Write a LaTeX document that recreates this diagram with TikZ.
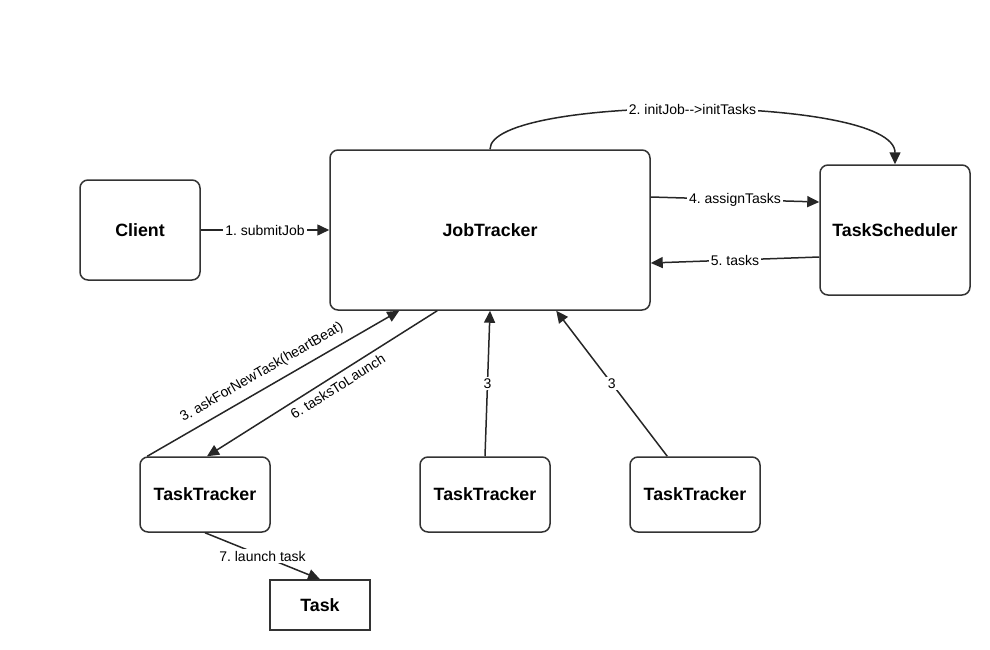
\documentclass[tikz,border=0pt]{standalone}
\usepackage{fontspec}
\setmainfont{Liberation Sans}
\usetikzlibrary{arrows.meta}
\definecolor{linegray}{HTML}{333333}
\frenchspacing

\begin{document}
\begin{tikzpicture}[x = 1pt, y = -1pt,
	box/.style = {draw = linegray, line width = 1.5pt, rounded corners = 8pt, inner sep = 0pt, font = \bfseries\fontsize{17.8}{20}\selectfont},
	plain/.style = {draw = linegray, line width = 1.5pt, inner sep = 0pt, font = \bfseries\fontsize{17.8}{20}\selectfont},
	link/.style = {draw = black!85, line width = 1.5pt, -{Triangle[length = 12pt, width = 11pt]}},
	lab/.style = {fill = white, inner sep = 2pt, font = \fontsize{14}{16}\selectfont},
	slab/.style = {inner sep = 2pt, font = \fontsize{14}{16}\selectfont, sloped}]
	\useasboundingbox (0,0) rectangle (990,650);
	% nodes
	\node[box, minimum width = 120pt, minimum height = 100pt] (client) at (140,230) {Client};
	\node[box, minimum width = 320pt, minimum height = 160pt] (jt) at (490,230) {JobTracker};
	\node[box, minimum width = 150pt, minimum height = 130pt] (ts) at (895,230) {TaskScheduler};
	\node[box, minimum width = 130pt, minimum height = 75pt] (tt1) at (205,494.5) {TaskTracker};
	\node[box, minimum width = 130pt, minimum height = 75pt] (tt2) at (485,494.5) {TaskTracker};
	\node[box, minimum width = 130pt, minimum height = 75pt] (tt3) at (695,494.5) {TaskTracker};
	\node[plain, minimum width = 100pt, minimum height = 50pt] (task) at (320,605) {Task};
	% connectors
	\draw[link] (client.east) -- node[lab] {1. submitJob} (jt.west);
	\draw[link] (jt.north) .. controls +(0,-55) and +(0,-70) .. node[lab, pos = 0.5] {2. initJob-{}->initTasks} (ts.north);
	\draw[link] ([yshift = 33pt]jt.east) -- node[lab] {4. assignTasks} ([yshift = 28pt]ts.west);
	\draw[link] ([yshift = -27pt]ts.west) -- node[lab] {5. tasks} ([yshift = -33pt]jt.east);
	\draw[link] ([xshift = 8pt]tt1.north west) -- node[slab, above = 6pt, pos = 0.485] {3. askForNewTask(heartBeat)} ([xshift = 70pt]jt.south west);
	\draw[link] ([xshift = 108pt]jt.south west) -- node[slab, below = 3pt, pos = 0.457] {6. tasksToLaunch} ([xshift = 2pt]tt1.north);
	\draw[link] (tt2.north) -- node[lab] {3} (jt.south);
	\draw[link] ([xshift = 38pt]tt3.north west) -- node[lab] {3} ([xshift = 227pt]jt.south west);
	\draw[link] (tt1.south) -- node[lab] {7. launch task} (task.north);
\end{tikzpicture}
\end{document}
